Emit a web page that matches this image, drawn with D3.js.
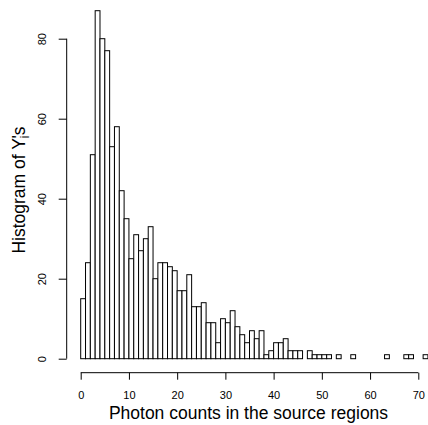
<!DOCTYPE html>
<html>
<head>
<meta charset="utf-8">
<script src="https://cdn.jsdelivr.net/npm/d3@7"></script>
<style>
  body { margin: 0; background: #fff; }
  text { font-family: "Liberation Sans", Arial, sans-serif; fill: #000; }
</style>
</head>
<body>
<div id="chart"></div>
<script>
// histogram counts, one per unit-wide bin starting at 0
var counts = [15, 24, 51, 87, 80, 77, 53, 58, 42, 35,
              25, 31, 27, 30, 33, 20, 24, 24, 23, 22,
              17, 17, 21, 13, 13, 14, 9, 9, 4, 10,
              9, 12, 8, 6, 4, 7, 5, 7, 1, 2,
              4, 4, 5, 2, 2, 2, 0, 2, 1, 1,
              1, 1, 0, 1, 0, 0, 1, 0, 0, 0,
              0, 0, 0, 1, 0, 0, 0, 1, 1, 0,
              0, 1];
var binStart = 0, binWidth = 1;
var xTicks = [0, 10, 20, 30, 40, 50, 60, 70];
var yTicks = [0, 20, 40, 60, 80];
var xTitle = "Photon counts in the source regions";

var width = 428, height = 425;

var svg = d3.select("#chart").append("svg")
  .attr("width", width)
  .attr("height", height);

var x = d3.scaleLinear().domain([0, 70]).range([80.7, 418.3]);
var y = d3.scaleLinear().domain([0, 80]).range([358.7, 38.7]);

var bins = counts.map(function (c, i) {
  return {x0: binStart + i * binWidth, x1: binStart + (i + 1) * binWidth, n: c};
});

// bars
svg.selectAll(".bar")
  .data(bins)
  .enter()
  .append("rect")
  .attr("class", "bar")
  .attr("x", d => x(d.x0))
  .attr("y", d => y(d.n))
  .attr("width", d => x(d.x1) - x(d.x0))
  .attr("height", d => y(0) - y(d.n))
  .attr("fill", "#fff")
  .attr("stroke", "#000")
  .attr("stroke-width", 1);

// x axis (R style: line from first to last tick)
var xAxis = svg.append("g")
  .attr("transform", "translate(0,372.7)")
  .call(d3.axisBottom(x).tickValues(xTicks).tickSize(7).tickPadding(12).tickSizeOuter(0));
xAxis.select(".domain").remove();
xAxis.append("line")
  .attr("x1", x(0)).attr("x2", x(70))
  .attr("stroke", "#000");
xAxis.selectAll("text")
  .style("font-size", "11px")
  .style("font-family", "Liberation Sans, Arial, sans-serif")
  .attr("fill", "#000");

// y axis with rotated labels
var yAxis = svg.append("g")
  .attr("transform", "translate(66.7,0)")
  .call(d3.axisLeft(y).tickValues(yTicks).tickSize(8).tickSizeOuter(0));
yAxis.select(".domain").remove();
yAxis.append("line")
  .attr("y1", y(0)).attr("y2", y(80))
  .attr("stroke", "#000");
yAxis.selectAll(".tick text")
  .style("font-size", "11px")
  .style("font-family", "Liberation Sans, Arial, sans-serif")
  .attr("fill", "#000")
  .attr("x", null).attr("dy", null)
  .attr("text-anchor", "middle")
  .attr("transform", "translate(-21,0) rotate(-90)")
  .attr("y", 0);

// axis titles
svg.append("text")
  .attr("x", 248.5)
  .attr("y", 419)
  .attr("text-anchor", "middle")
  .style("font-size", "17.5px")
  .text(xTitle);

var yt = svg.append("text")
  .attr("transform", "translate(25,190) rotate(-90)")
  .attr("text-anchor", "middle")
  .style("font-size", "17.5px");
yt.append("tspan").text("Histogram of Y");
yt.append("tspan").attr("dy", 4).style("font-size", "12px").text("i");
yt.append("tspan").attr("dy", -4).attr("dx", -3).text("'s");
</script>
</body>
</html>
